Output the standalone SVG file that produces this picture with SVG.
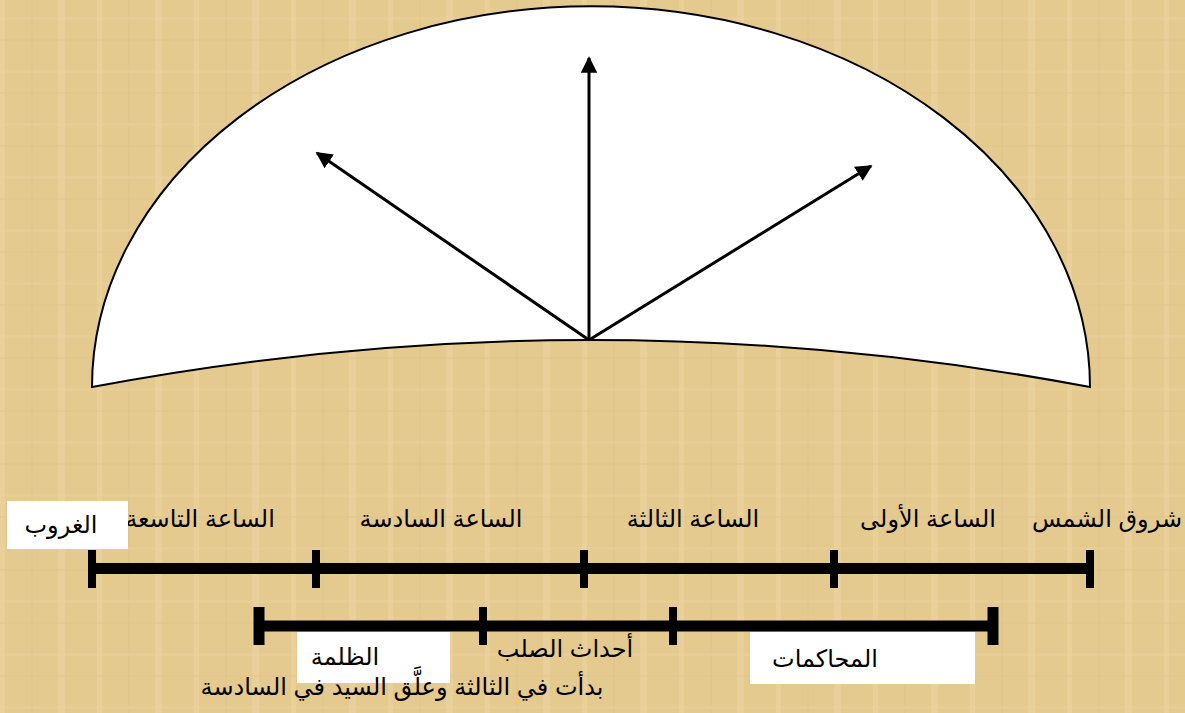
<svg xmlns="http://www.w3.org/2000/svg" width="1185" height="713" viewBox="0 0 1185 713">
<defs>
<style>
.t{font-family:"Liberation Sans","DejaVu Sans",sans-serif;font-size:24px;fill:#000;text-anchor:middle;direction:rtl}
.bar{stroke:#000;stroke-width:11;fill:none}
.tick1{stroke:#000;stroke-width:8}
.tick2{stroke:#000;stroke-width:11}
.arr{stroke:#000;stroke-width:3;fill:none;marker-end:url(#ah)}
.box{fill:#fff}
</style>
<marker id="ah" viewBox="0 0 10 10" refX="9" refY="5" markerWidth="5.5" markerHeight="5.5" orient="auto" markerUnits="strokeWidth">
<path d="M0,0 L10,5 L0,10 z" fill="#000"/>
</marker>
<pattern id="pap" width="97" height="53" patternUnits="userSpaceOnUse">
<rect width="97" height="53" fill="#E5CA90"/>
<rect x="0" y="0" width="5" height="53" fill="#EDD6A2" opacity="0.45"/>
<rect x="31" y="0" width="2" height="53" fill="#DCC087" opacity="0.35"/>
<rect x="58" y="0" width="7" height="53" fill="#EFD9A8" opacity="0.35"/>
<rect x="0" y="17" width="97" height="3" fill="#EBD39E" opacity="0.4"/>
<rect x="0" y="39" width="97" height="2" fill="#DCC188" opacity="0.3"/>
</pattern>
</defs>
<rect width="1185" height="713" fill="url(#pap)"/>

<g id="dome">
<path d="M92,387 A498,380 0 0 1 1090,387 Q590,293 92,387 Z" fill="#fff" stroke="#000" stroke-width="2"/>
</g>

<g id="connectors">
<line class="arr" x1="589" y1="340" x2="589" y2="58"/>
<line class="arr" x1="589" y1="340" x2="317" y2="153"/>
<line class="arr" x1="589" y1="340" x2="871" y2="166"/>
</g>

<g id="timeline-hours">
<line class="bar" x1="91" y1="568.5" x2="1090" y2="568.5"/>
<line class="tick1" x1="92" y1="550" x2="92" y2="588"/>
<line class="tick1" x1="316" y1="550" x2="316" y2="588"/>
<line class="tick1" x1="584" y1="550" x2="584" y2="588"/>
<line class="tick1" x1="834" y1="550" x2="834" y2="588"/>
<line class="tick1" x1="1090" y1="550" x2="1090" y2="588"/>
</g>

<g id="timeline-events">
<line class="bar" x1="259" y1="626" x2="993" y2="626"/>
<line class="tick2" x1="259" y1="607" x2="259" y2="645"/>
<line class="tick1" x1="483" y1="607" x2="483" y2="645"/>
<line class="tick1" x1="673" y1="607" x2="673" y2="645"/>
<line class="tick2" x1="993" y1="607" x2="993" y2="645"/>
</g>

<g id="hour-labels">
<text class="t" x="1107" y="527">شروق الشمس</text>
<text class="t" x="928" y="527">الساعة الأولى</text>
<text class="t" x="693" y="527">الساعة الثالثة</text>
<text class="t" x="441" y="527">الساعة السادسة</text>
<text class="t" x="200" y="527">الساعة التاسعة</text>
</g>

<g id="node-sunset">
<rect class="box" x="7" y="501" width="121" height="48"/>
<text class="t" x="61" y="533">الغروب</text>
</g>

<g id="node-darkness">
<rect class="box" x="297" y="632" width="153" height="51"/>
<text class="t" x="345" y="665">الظلمة</text>
</g>

<g id="node-trials">
<rect class="box" x="750" y="632" width="225" height="52"/>
<text class="t" x="825" y="667">المحاكمات</text>
</g>

<g id="node-crucifixion">
<text class="t" x="565" y="657">أحداث الصلب</text>
<text class="t" x="402" y="695">بدأت في الثالثة وعلَّق السيد في السادسة</text>
</g>
</svg>
